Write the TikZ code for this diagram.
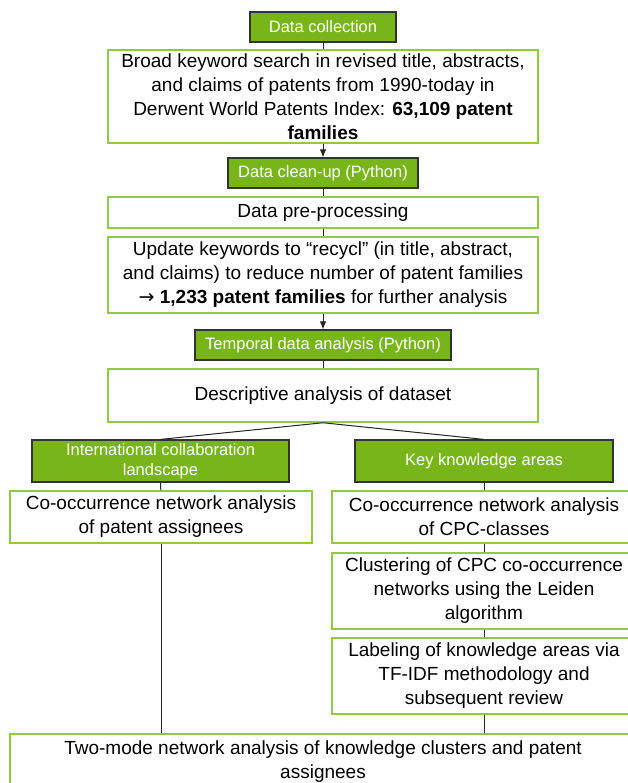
\documentclass[tikz,border=0pt]{standalone}
\usepackage{fontspec}
\setmainfont{Liberation Sans}
\newfontfamily\arrowfont{DejaVu Sans}
\usepackage{xcolor}
\usepackage{tikz}
\usetikzlibrary{positioning, arrows.meta}

\definecolor{phasegreen}{RGB}{120,181,24}
\definecolor{boxgreen}{RGB}{146,200,70}

\tikzset{
    phase/.style={draw=black!80, line width=1.2pt, fill=phasegreen, text=white,
        font=\fontsize{16.5}{20.5}\selectfont, align=center, inner sep=0pt},
    task/.style={draw=boxgreen, line width=1.5pt, fill=white,
        font=\fontsize{19}{24}\selectfont, align=center, inner sep=0pt},
    link/.style={line width=1pt, black!85},
}

\begin{document}
\begin{tikzpicture}[>={Latex[length=8pt, width=6.5pt]}, x=1pt, y=-1pt]
    \useasboundingbox (0,0) rectangle (627,783);

    % 1. Thu thap du lieu
    \node[phase, minimum width=146, minimum height=30] (collect) at (323,27) {Data collection};
    \node[task, minimum width=430, minimum height=93] (search) at (323,96.5)
        {Broad keyword search in revised title, abstracts,\\
         and claims of patents from 1990-today in\\
         Derwent World Patents Index: \textbf{63,109 patent}\\
         \textbf{families}};

    % 2. Lam sach du lieu
    \node[phase, minimum width=190, minimum height=30] (cleanup) at (323,173) {Data clean-up (Python)};
    \node[task, minimum width=430, minimum height=31] (prep) at (323,212.5) {Data pre-processing};
    \node[task, minimum width=430, minimum height=76] (update) at (323,275)
        {Update keywords to “recycl” (in title, abstract,\\
         and claims) to reduce number of patent families\\
         {\arrowfont →} \textbf{1,233 patent families} for further analysis};

    % 3. Phan tich theo thoi gian
    \node[phase, minimum width=256, minimum height=30] (temporal) at (323,345) {Temporal data analysis (Python)};
    \node[task, minimum width=430, minimum height=53] (descr) at (323,395.5) {Descriptive analysis of dataset};

    % 4. Hai nhanh
    \node[phase, minimum width=257, minimum height=42] (intl) at (160.5,461)
        {International collaboration\\ landscape};
    \node[phase, minimum width=258, minimum height=42] (key) at (484,461) {Key knowledge areas};
    \node[task, minimum width=302, minimum height=52] (assign) at (161,517)
        {Co-occurrence network analysis\\ of patent assignees};
    \node[task, minimum width=304, minimum height=52] (cpc) at (484,517)
        {Co-occurrence network analysis\\ of CPC-classes};
    \node[task, minimum width=304, minimum height=76] (cluster) at (484,591)
        {Clustering of CPC co-occurrence\\ networks using the Leiden\\ algorithm};
    \node[task, minimum width=304, minimum height=76] (label) at (484,676)
        {Labeling of knowledge areas via\\ TF-IDF methodology and\\ subsequent review};
    \node[task, minimum width=626, minimum height=56] (twomode) at (323,762)
        {Two-mode network analysis of knowledge clusters and patent\\ assignees};

    % 5. Duong noi
    \draw[link] (collect) -- (search);
    \draw[link, ->] (search) -- (cleanup);
    \draw[link] (cleanup) -- (prep);
    \draw[link] (prep) -- (update);
    \draw[link, ->] (update) -- (temporal);
    \draw[link] (temporal) -- (descr);
    \draw[link] (descr.south) -- (intl.north);
    \draw[link] (descr.south) -- (key.north);
    \draw[link] (intl) -- (assign);
    \draw[link] (key) -- (cpc);
    \draw[link] (cpc) -- (cluster);
    \draw[link] (cluster) -- (label);
    \draw[link] (assign.south) -- (assign.south |- twomode.north);
    \draw[link] (label.south) -- (label.south |- twomode.north);
\end{tikzpicture}
\end{document}
